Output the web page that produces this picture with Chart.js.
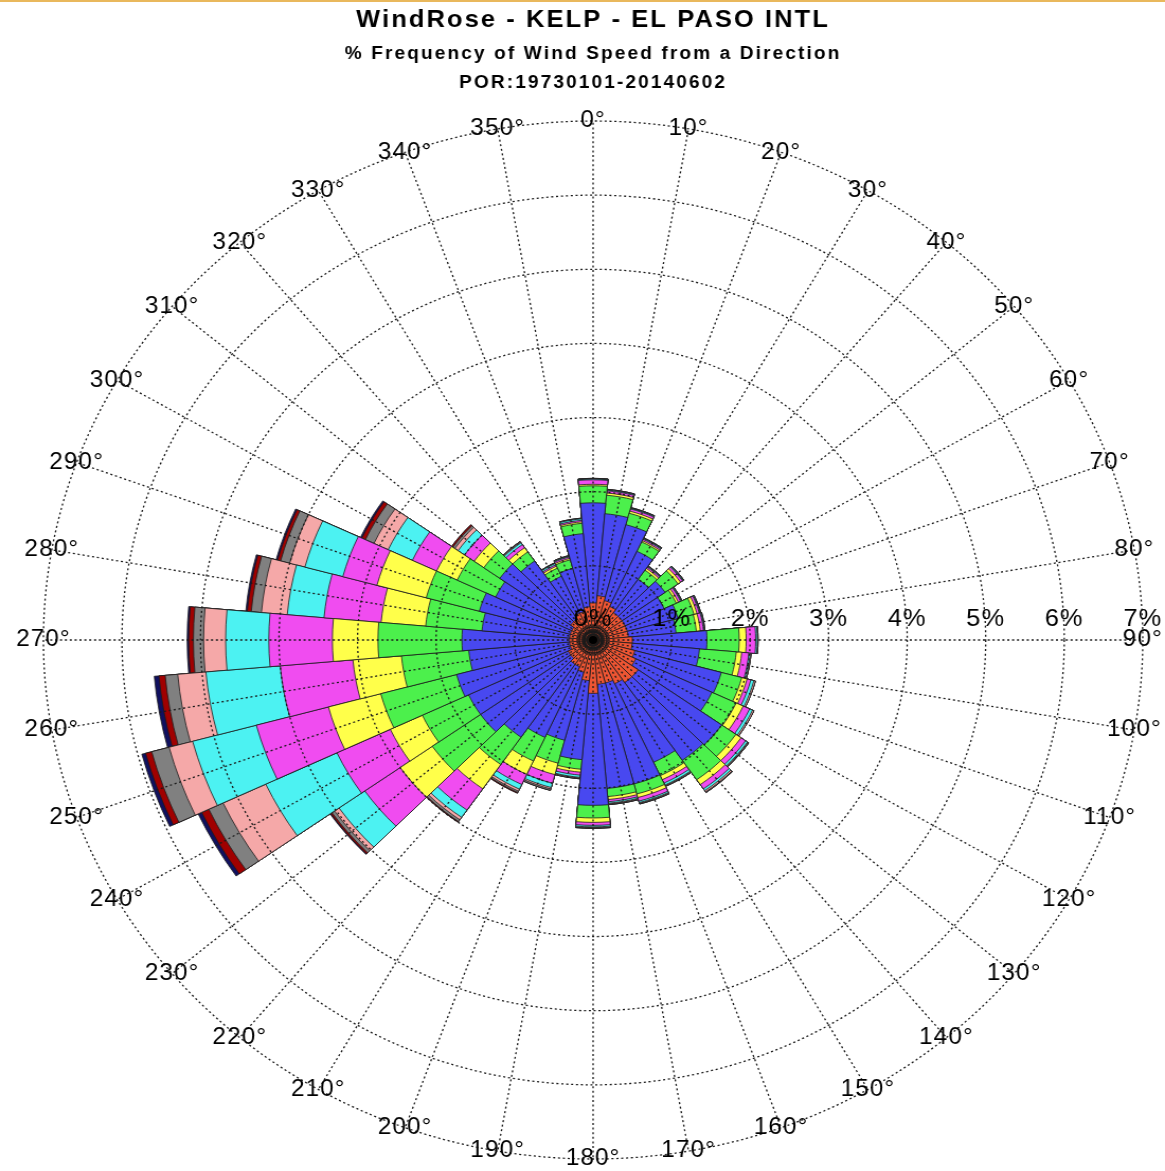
<!DOCTYPE html>
<html>
<head>
<meta charset="utf-8">
<script src="https://cdn.jsdelivr.net/npm/chart.js@4.4.1/dist/chart.umd.min.js"></script>
<style>
html,body{margin:0;padding:0;background:#fff;overflow:hidden;}
#topline{position:absolute;left:0;top:0;width:1165px;height:2px;background:#e9b85c;}
#c{display:block;}
</style>
</head>
<body>
<div id="topline"></div>
<canvas id="c" width="1100" height="1171" style="width:1165px;height:1171px;"></canvas>
<script>
// ---- data (cumulative % frequency reached by each speed band, per direction) ----
const directions = [0,10,20,30,40,50,60,70,80,90,100,110,120,130,140,150,160,170,180,190,200,210,220,230,240,250,260,270,280,290,300,310,320,330,340,350];
const percentTicks = [0,1,2,3,4,5,6,7];
const titleText = 'WindRose - KELP - EL PASO INTL';
const subtitleLines = ['% Frequency of Wind Speed from a Direction', 'POR:19730101-20140602'];
const bandNames = ['Band 1','Band 2','Band 3','Band 4','Band 5','Band 6','Band 7','Band 8','Band 9','Band 10'];

const band1 = [.50,.60,.55,.50,.45,.45,.45,.45,.45,.50,.50,.55,.60,.70,.70,.65,.60,.60,.72,.55,.45,.40,.40,.35,.35,.30,.30,.30,.30,.30,.30,.35,.35,.40,.40,.45];
const band2 = [1.85,1.71,1.61,1.32,1.00,1.12,1.00,1.12,1.06,1.45,1.36,1.69,1.67,2.00,1.98,1.82,2.01,2.01,2.23,1.62,1.40,1.45,1.60,1.75,1.75,1.80,1.59,1.67,1.42,1.50,1.37,1.45,1.30,0.95,1.00,1.44];
const band3 = [2.08,1.96,1.77,1.46,1.15,1.32,1.17,1.33,1.32,1.86,1.83,1.96,2.01,2.22,2.30,2.02,2.15,2.12,2.40,1.75,1.72,1.80,2.05,2.50,2.40,2.80,2.45,2.74,2.14,2.20,1.91,1.70,1.45,1.07,1.12,1.58];
const band4 = [2.10,1.99,1.80,1.48,1.18,1.36,1.20,1.37,1.37,1.95,1.90,2.03,2.11,2.30,2.38,2.08,2.20,2.16,2.46,1.79,1.88,2.00,2.45,3.00,2.85,3.49,3.07,3.32,2.71,2.85,2.20,1.85,1.52,1.10,1.14,1.60];
const band5 = [2.16,2.02,1.83,1.50,1.20,1.39,1.23,1.40,1.41,2.07,1.99,2.08,2.20,2.37,2.45,2.13,2.25,2.19,2.50,1.83,2.00,2.15,2.80,3.55,3.60,4.44,4.00,4.13,3.44,3.30,2.54,2.00,1.57,1.12,1.16,1.62];
const band6 = [2.17,2.03,1.84,1.51,1.21,1.40,1.24,1.41,1.42,2.09,2.01,2.12,2.24,2.40,2.48,2.16,2.27,2.21,2.52,1.86,2.06,2.22,2.92,3.95,4.60,5.28,4.95,4.68,3.91,3.80,2.88,2.10,1.60,1.14,1.17,1.64];
const band7 = [2.17,2.03,1.84,1.51,1.21,1.40,1.24,1.41,1.42,2.10,2.02,2.14,2.26,2.41,2.50,2.17,2.28,2.22,2.53,1.87,2.08,2.25,2.96,4.02,5.20,5.59,5.31,4.96,4.24,4.00,3.08,2.15,1.61,1.14,1.17,1.64];
const band8 = [2.18,2.04,1.85,1.52,1.22,1.41,1.25,1.42,1.43,2.10,2.02,2.14,2.26,2.42,2.51,2.18,2.29,2.23,2.54,1.88,2.10,2.27,2.99,4.06,5.40,5.82,5.47,5.09,4.37,4.12,3.20,2.18,1.62,1.15,1.18,1.65];
const band9 = [2.18,2.04,1.85,1.52,1.22,1.41,1.25,1.42,1.43,2.10,2.02,2.14,2.26,2.42,2.51,2.18,2.29,2.23,2.54,1.88,2.10,2.28,3.00,4.08,5.50,5.90,5.55,5.15,4.42,4.16,3.25,2.20,1.62,1.15,1.18,1.65];
const band10 = [2.18,2.04,1.85,1.52,1.22,1.41,1.25,1.42,1.43,2.10,2.02,2.14,2.26,2.42,2.51,2.18,2.29,2.23,2.54,1.88,2.10,2.28,3.00,4.09,5.55,5.95,5.61,5.17,4.44,4.18,3.27,2.20,1.62,1.15,1.18,1.65];

// ---- styles ----
const bandColors = ['#EE5533','#4848F0','#4CF04C','#FFFF4A','#F04CF0','#4CF2F2','#F5A8A8','#808080','#A00000','#101060'];
const FONT = "'Liberation Sans', Arial, Helvetica, sans-serif";

const bands = [band1,band2,band3,band4,band5,band6,band7,band8,band9,band10];
const datasets = bands.map((vals, i) => ({
  label: bandNames[i],
  data: vals,
  backgroundColor: bandColors[i],
  borderColor: '#1c1c1c',
  borderWidth: 0.8
}));

const roseGrid = {
  id: 'roseGrid',
  beforeDraw(chart) {
    chart.ctx.letterSpacing = '2px';
  },
  beforeDatasetsDraw(chart) {
    chart.ctx.letterSpacing = '0px';
  },
  afterDatasetsDraw(chart) {
    const s = chart.scales.r, ctx = chart.ctx;
    const cx = s.xCenter, cy = s.yCenter;
    const R = s.getDistanceFromCenterForValue(s.max);
    ctx.save();
    ctx.strokeStyle = '#1a1a1a';
    ctx.lineWidth = 1.3;
    ctx.setLineDash([2, 2.6]);
    percentTicks.forEach(v => {
      if (v === 0) return;
      const r = s.getDistanceFromCenterForValue(v);
      ctx.beginPath(); ctx.arc(cx, cy, r, 0, Math.PI * 2); ctx.stroke();
    });
    directions.forEach(d => {
      const a = d * Math.PI / 180;
      ctx.beginPath(); ctx.moveTo(cx, cy);
      ctx.lineTo(cx + R * Math.sin(a), cy - R * Math.cos(a)); ctx.stroke();
    });
    ctx.setLineDash([]);
    // centre marker
    ctx.fillStyle = '#000';
    ctx.beginPath(); ctx.arc(cx, cy, 4, 0, Math.PI * 2); ctx.fill();
    ctx.lineWidth = 2.4;
    ctx.beginPath(); ctx.arc(cx, cy, 8.5, 0, Math.PI * 2); ctx.stroke();
    ctx.lineWidth = 1.4;
    ctx.beginPath(); ctx.arc(cx, cy, 13, 0, Math.PI * 2); ctx.stroke();
    ctx.restore();
  },
  afterDraw(chart) {
    const s = chart.scales.r, ctx = chart.ctx;
    const cx = s.xCenter, cy = s.yCenter;
    const R = s.getDistanceFromCenterForValue(s.max);
    ctx.save();
    ctx.fillStyle = '#000';
    ctx.letterSpacing = '1px';
    ctx.font = '23px ' + FONT;
    ctx.textAlign = 'center';
    ctx.textBaseline = 'middle';
    directions.forEach(d => {
      const a = d * Math.PI / 180;
      ctx.fillText(d + '°', cx + R * Math.sin(a), cy - R * Math.cos(a));
    });
    ctx.font = '24px ' + FONT;
    percentTicks.forEach(v => {
      const r = s.getDistanceFromCenterForValue(v);
      ctx.fillText(v + '%', cx + r, cy - 21);
    });
    ctx.letterSpacing = '0px';
    ctx.restore();
  }
};

new Chart(document.getElementById('c'), {
  type: 'polarArea',
  data: { labels: directions.map(d => d + '°'), datasets },
  options: {
    responsive: false,
    animation: false,
    layout: { padding: { left: 41, right: 21, top: 0, bottom: 12 } },
    plugins: {
      legend: { display: false },
      tooltip: { enabled: false },
      title: {
        display: true, text: titleText, color: '#000',
        font: { family: FONT, size: 24, weight: 'bold', lineHeight: 1.2 },
        padding: { top: 6, bottom: 4 }
      },
      subtitle: {
        display: true, text: subtitleLines, color: '#000',
        font: { family: FONT, size: 18, weight: 'bold', lineHeight: 29 / 18 },
        padding: { top: 1, bottom: 23.2 }
      }
    },
    scales: {
      r: {
        min: 0, max: 7, startAngle: -5,
        ticks: { display: false, stepSize: 1 },
        grid: { display: false },
        angleLines: { display: false },
        pointLabels: { display: false }
      }
    }
  },
  plugins: [roseGrid]
});
</script>
</body>
</html>
